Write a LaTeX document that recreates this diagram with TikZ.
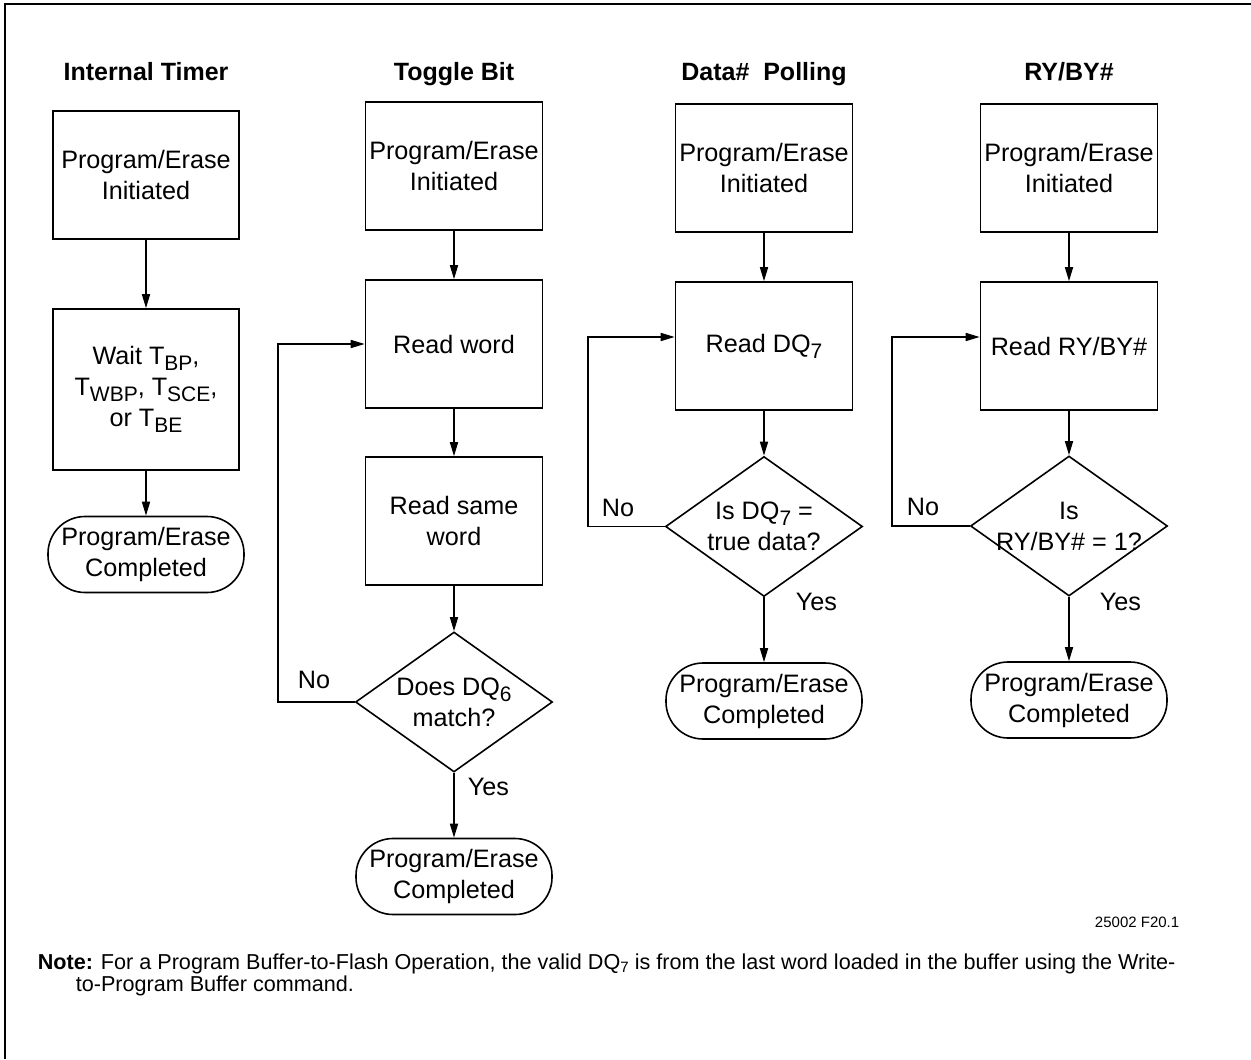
\documentclass[tikz,border=0pt]{standalone}
\usepackage{fontspec}
\setmainfont{Liberation Sans}
\usetikzlibrary{arrows.meta,shapes.geometric}
\newcommand{\lowsub}[1]{\raisebox{-3pt}{\fontsize{10.5}{10.5}\selectfont #1}}

\begin{document}
\begin{tikzpicture}[x=0.5pt,y=-0.5pt,line width=0.8pt,>={Triangle[length=7pt,width=4pt]},
        flowbox/.style={draw,minimum width=88.5pt,minimum height=64pt,inner sep=1pt,align=center,font=\fontsize{12.6}{15.5}\selectfont},
        testbox/.style={draw,diamond,aspect=1.407,minimum width=98.5pt,minimum height=70pt,inner sep=-3pt,align=center,font=\fontsize{12.6}{15.5}\selectfont},
        endbox/.style={draw,rectangle,rounded corners=18.5pt,minimum width=98pt,minimum height=38pt,inner sep=1pt,align=center,font=\fontsize{12.6}{15.5}\selectfont},
        colhead/.style={anchor=base,font=\bfseries\fontsize{12.5}{15}\selectfont},
        yesno/.style={anchor=base west,inner sep=0pt,font=\fontsize{12.6}{14}\selectfont}]
        \useasboundingbox (0,0) rectangle (1251,1059);
        \draw[line width=1.2pt] (1251,4) -- (5,4) -- (5,1059);

        \node[colhead] (hTimer) at (146,81) {Internal Timer};
        \node[flowbox,minimum width=93pt] (init1) at (146,175) {Program/Erase\\Initiated};
        \node[flowbox,minimum width=93pt,minimum height=80.5pt] (wait1) at (146,389.5) {Wait T\lowsub{BP},\\T\lowsub{WBP}, T\lowsub{SCE},\\or T\lowsub{BE}};
        \node[endbox] (done1) at (146,554.5) {Program/Erase\\Completed};
        \draw[->] (init1) -- (wait1);
        \draw[->] (wait1) -- (done1);

        \node[colhead] (hToggle) at (454,81) {Toggle Bit};
        \node[flowbox] (init2) at (454,166) {Program/Erase\\Initiated};
        \node[flowbox] (read2) at (454,344) {Read word};
        \node[flowbox] (again2) at (454,521) {Read same\\word};
        \node[testbox] (test2) at (454,702) {Does DQ\lowsub{6}\\match?};
        \node[endbox] (done2) at (454,876.5) {Program/Erase\\Completed};
        \node[yesno] (no2) at (297,688) {No};
        \node[yesno] (yes2) at (467,795) {Yes};
        \draw[->] (init2) -- (read2);
        \draw[->] (read2) -- (again2);
        \draw[->] (again2) -- (test2);
        \draw[->] (test2) -- (done2);
        \draw[->] (test2.west) -- ++(-77,0) |- (read2.west);

        \node[colhead] (hData) at (764,81) {Data\#\ \ Polling};
        \node[flowbox] (init3) at (764,168) {Program/Erase\\Initiated};
        \node[flowbox] (read3) at (764,346) {Read DQ\lowsub{7}};
        \node[testbox] (test3) at (764,526.5) {Is DQ\lowsub{7} =\\true data?};
        \node[endbox] (done3) at (764,701) {Program/Erase\\Completed};
        \node[yesno] (no3) at (601,516) {No};
        \node[yesno] (yes3) at (795,610) {Yes};
        \draw[->] (init3) -- (read3);
        \draw[->] (read3) -- (test3);
        \draw[->] (test3) -- (done3);
        \draw[->] (test3.west) -- ++(-77,0) |- ([yshift=4.5pt]read3.west);

        \node[colhead] (hReady) at (1069,81) {RY/BY\#};
        \node[flowbox] (init4) at (1069,168) {Program/Erase\\Initiated};
        \node[flowbox] (read4) at (1069,346) {Read RY/BY\#};
        \node[testbox] (test4) at (1069,526) {Is\\RY/BY\# = 1?};
        \node[endbox] (done4) at (1069,700) {Program/Erase\\Completed};
        \node[yesno] (no4) at (906,515) {No};
        \node[yesno] (yes4) at (1099,610) {Yes};
        \draw[->] (init4) -- (read4);
        \draw[->] (read4) -- (test4);
        \draw[->] (test4) -- (done4);
        \draw[->] (test4.west) -- ++(-78,0) |- ([yshift=4.5pt]read4.west);

        \node[anchor=base east,inner sep=0pt,font=\fontsize{7.5}{9}\selectfont] (figno) at (1180,927) {25002 F20.1};
        \node[anchor=north west,inner sep=0pt,align=left,font=\fontsize{10.8}{11}\selectfont] (note) at (37,953) {\textbf{Note:} For a Program Buffer-to-Flash Operation, the valid DQ\raisebox{-1.5pt}{\fontsize{7.5}{7.5}\selectfont 7} is from the last word loaded in the buffer using the Write-\\\hspace*{19pt}to-Program Buffer command.};
    \end{tikzpicture}
\end{document}
